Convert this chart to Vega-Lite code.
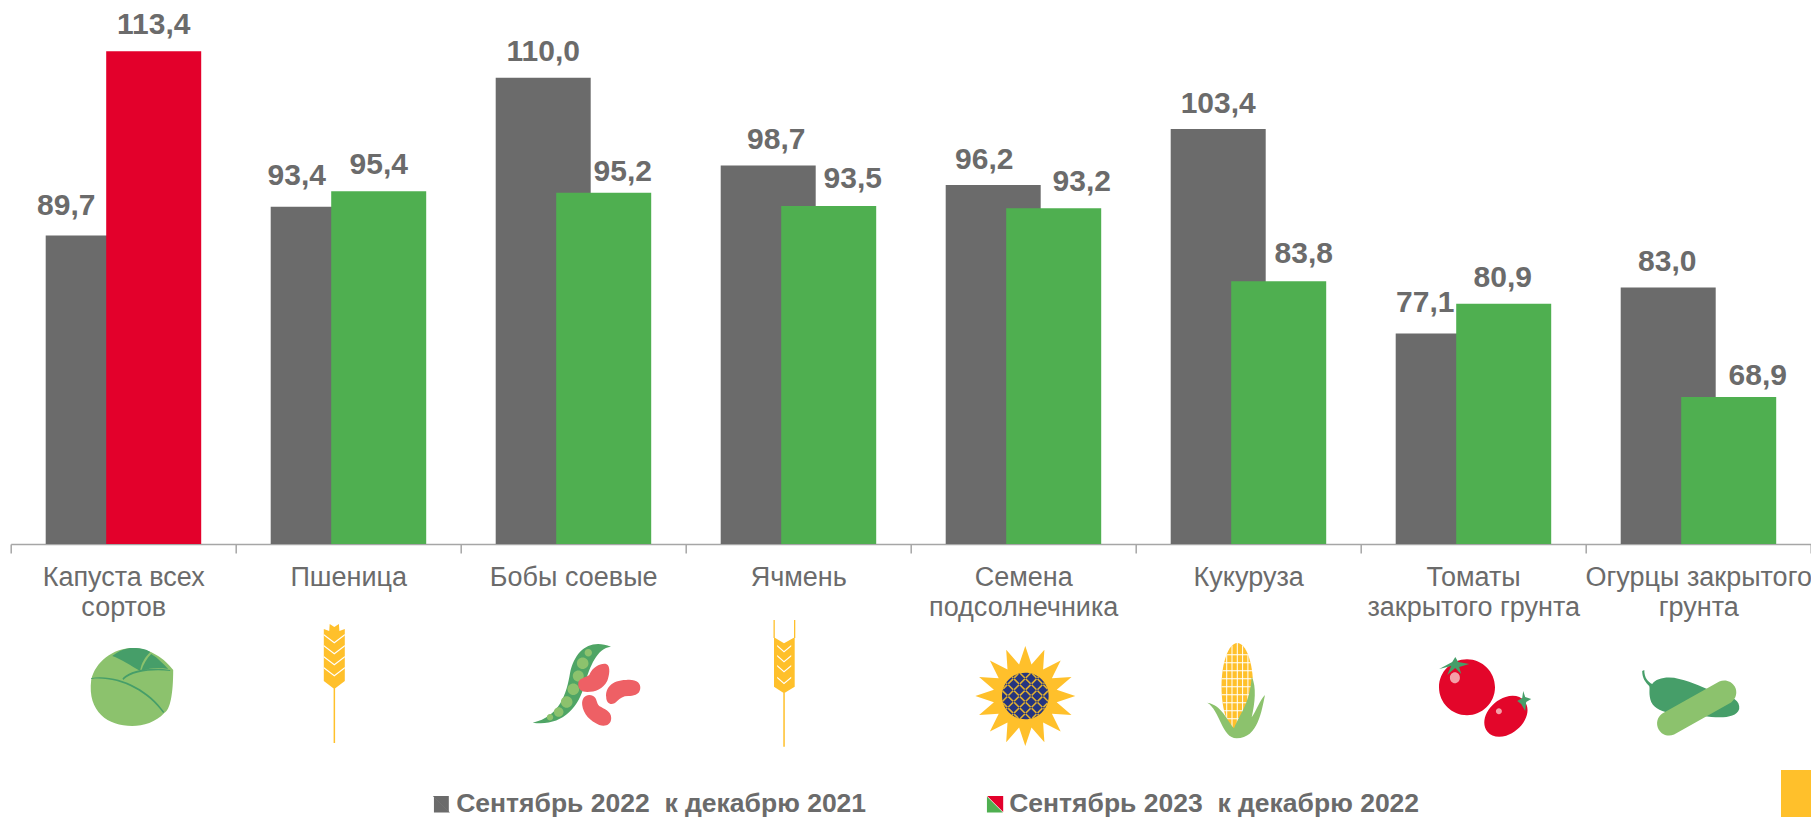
{
"$schema":"https://vega.github.io/schema/vega-lite/v6.json",
"width":1800,"height":544,
"autosize":{"type":"none"},
"padding":{"left":10.7,"right":0.3,"top":0,"bottom":273},
"background":"white",
"config":{"view":{"stroke":null},"locale":{"number":{"decimal":",","thousands":" ","grouping":[3],"currency":["","₽"]}},"text":{"font":"Liberation Sans"}},
"datasets":{
"bars":[
{"crop":"Капуста всех сортов","series":"Сентябрь 2022 \u00a0к декабрю 2021","value":89.7},
{"crop":"Капуста всех сортов","series":"Сентябрь 2023 \u00a0к декабрю 2022","value":113.4},
{"crop":"Пшеница","series":"Сентябрь 2022 \u00a0к декабрю 2021","value":93.4},
{"crop":"Пшеница","series":"Сентябрь 2023 \u00a0к декабрю 2022","value":95.4},
{"crop":"Бобы соевые","series":"Сентябрь 2022 \u00a0к декабрю 2021","value":110.0},
{"crop":"Бобы соевые","series":"Сентябрь 2023 \u00a0к декабрю 2022","value":95.2},
{"crop":"Ячмень","series":"Сентябрь 2022 \u00a0к декабрю 2021","value":98.7},
{"crop":"Ячмень","series":"Сентябрь 2023 \u00a0к декабрю 2022","value":93.5},
{"crop":"Семена подсолнечника","series":"Сентябрь 2022 \u00a0к декабрю 2021","value":96.2},
{"crop":"Семена подсолнечника","series":"Сентябрь 2023 \u00a0к декабрю 2022","value":93.2},
{"crop":"Кукуруза","series":"Сентябрь 2022 \u00a0к декабрю 2021","value":103.4},
{"crop":"Кукуруза","series":"Сентябрь 2023 \u00a0к декабрю 2022","value":83.8},
{"crop":"Томаты закрытого грунта","series":"Сентябрь 2022 \u00a0к декабрю 2021","value":77.1},
{"crop":"Томаты закрытого грунта","series":"Сентябрь 2023 \u00a0к декабрю 2022","value":80.9},
{"crop":"Огурцы закрытого грунта","series":"Сентябрь 2022 \u00a0к декабрю 2021","value":83.0},
{"crop":"Огурцы закрытого грунта","series":"Сентябрь 2023 \u00a0к декабрю 2022","value":68.9}
],
"icons":[
{"crop":"Капуста всех сортов","part":"cabbageHead"},
{"crop":"Капуста всех сортов","part":"cabbageTop"},
{"crop":"Капуста всех сортов","part":"cabbageVeins"},
{"crop":"Пшеница","part":"wheatEar"},
{"crop":"Пшеница","part":"wheatGaps"},
{"crop":"Бобы соевые","part":"pod"},
{"crop":"Бобы соевые","part":"peas"},
{"crop":"Бобы соевые","part":"beans"},
{"crop":"Бобы соевые","part":"legendRed"},
{"crop":"Бобы соевые","part":"legendGray"},
{"crop":"Ячмень","part":"barleyEar"},
{"crop":"Ячмень","part":"barleyGaps"},
{"crop":"Семена подсолнечника","part":"sunPetals"},
{"crop":"Семена подсолнечника","part":"sunSeeds"},
{"crop":"Семена подсолнечника","part":"sunLattice"},
{"crop":"Кукуруза","part":"cornCob"},
{"crop":"Кукуруза","part":"cornGrid"},
{"crop":"Кукуруза","part":"cornLeaves"},
{"crop":"Томаты закрытого грунта","part":"tomatoes"},
{"crop":"Томаты закрытого грунта","part":"tomatoStems"},
{"crop":"Томаты закрытого грунта","part":"tomatoShine"},
{"crop":"Огурцы закрытого грунта","part":"pickle"},
{"crop":"Огурцы закрытого грунта","part":"cucumber"},
{"crop":"Огурцы закрытого грунта","part":"corner"}
]
},
"layer":[
{
"data":{"name":"bars"},
"encoding":{
"x":{"field":"crop","type":"nominal","scale":{"domain":["Капуста всех сортов","Пшеница","Бобы соевые","Ячмень","Семена подсолнечника","Кукуруза","Томаты закрытого грунта","Огурцы закрытого грунта"],"paddingInner":0,"paddingOuter":0},
"axis":{"title":null,"labelAngle":0,"labelFont":"Liberation Sans","labelFontSize":27,"labelColor":"#6B6B6B","labelLimit":0,"labelPadding":11,"labelBaseline":"top","labelLineHeight":30,"labelOverlap":false,"tickBand":"extent","tickSize":9,"tickColor":"#A6A6A6","domainColor":"#A6A6A6","domainWidth":1.5,"tickWidth":1.5,
"labelExpr":"datum.value=='Капуста всех сортов'?['Капуста всех','сортов']:datum.value=='Семена подсолнечника'?['Семена','подсолнечника']:datum.value=='Томаты закрытого грунта'?['Томаты','закрытого грунта']:datum.value=='Огурцы закрытого грунта'?['Огурцы закрытого','грунта']:datum.value"}},
"xOffset":{"field":"series","type":"nominal","scale":{"type":"point","padding":0,"domain":["Сентябрь 2022 \u00a0к декабрю 2021","Сентябрь 2023 \u00a0к декабрю 2022"],"range":[82.5,143]}},
"y":{"field":"value","type":"quantitative","scale":{"domain":[50,120],"nice":false,"zero":false},"axis":null}
},
"layer":[
{"mark":{"type":"bar","width":95},
"encoding":{"y2":{"datum":50},"color":{"condition":{"test":"datum.value>100 && indexof(datum.series,'2023')>=0","value":"#E3002B"},"field":"series","type":"nominal","scale":{"domain":["Сентябрь 2022 \u00a0к декабрю 2021","Сентябрь 2023 \u00a0к декабрю 2022"],"range":["#6B6B6B","#4FAF50"]},
"legend":{"title":null,"orient":"none","legendX":418,"legendY":791,"direction":"horizontal","columns":2,"columnPadding":115,"symbolType":"M-1,-1L-1,1L1,1Z","symbolSize":256,"symbolStrokeWidth":0,"symbolOpacity":1,"labelFont":"Liberation Sans","labelFontSize":26.5,"labelFontWeight":"bold","labelColor":"#6B6B6B","labelLimit":0,"labelOffset":1}}}},
{"transform":[{"filter":"datum.value==89.7"}],"mark":{"type":"text","dx":-27,"dy":-20,"fontSize":30,"fontWeight":"bold","fill":"#6B6B6B","baseline":"alphabetic"},"encoding":{"text":{"field":"value","type":"quantitative","format":".1f"}}},
{"transform":[{"filter":"datum.value==113.4"}],"mark":{"type":"text","dx":0,"dy":-17,"fontSize":30,"fontWeight":"bold","fill":"#6B6B6B","baseline":"alphabetic"},"encoding":{"text":{"field":"value","type":"quantitative","format":".1f"}}},
{"transform":[{"filter":"datum.value==93.4"}],"mark":{"type":"text","dx":-21.5,"dy":-22,"fontSize":30,"fontWeight":"bold","fill":"#6B6B6B","baseline":"alphabetic"},"encoding":{"text":{"field":"value","type":"quantitative","format":".1f"}}},
{"transform":[{"filter":"datum.value==95.4"}],"mark":{"type":"text","dx":0,"dy":-17,"fontSize":30,"fontWeight":"bold","fill":"#6B6B6B","baseline":"alphabetic"},"encoding":{"text":{"field":"value","type":"quantitative","format":".1f"}}},
{"transform":[{"filter":"datum.value==110"}],"mark":{"type":"text","dx":0,"dy":-17,"fontSize":30,"fontWeight":"bold","fill":"#6B6B6B","baseline":"alphabetic"},"encoding":{"text":{"field":"value","type":"quantitative","format":".1f"}}},
{"transform":[{"filter":"datum.value==95.2"}],"mark":{"type":"text","dx":19,"dy":-12,"fontSize":30,"fontWeight":"bold","fill":"#6B6B6B","baseline":"alphabetic"},"encoding":{"text":{"field":"value","type":"quantitative","format":".1f"}}},
{"transform":[{"filter":"datum.value==98.7"}],"mark":{"type":"text","dx":8,"dy":-17,"fontSize":30,"fontWeight":"bold","fill":"#6B6B6B","baseline":"alphabetic"},"encoding":{"text":{"field":"value","type":"quantitative","format":".1f"}}},
{"transform":[{"filter":"datum.value==93.5"}],"mark":{"type":"text","dx":24,"dy":-18,"fontSize":30,"fontWeight":"bold","fill":"#6B6B6B","baseline":"alphabetic"},"encoding":{"text":{"field":"value","type":"quantitative","format":".1f"}}},
{"transform":[{"filter":"datum.value==96.2"}],"mark":{"type":"text","dx":-9,"dy":-16,"fontSize":30,"fontWeight":"bold","fill":"#6B6B6B","baseline":"alphabetic"},"encoding":{"text":{"field":"value","type":"quantitative","format":".1f"}}},
{"transform":[{"filter":"datum.value==93.2"}],"mark":{"type":"text","dx":28,"dy":-17,"fontSize":30,"fontWeight":"bold","fill":"#6B6B6B","baseline":"alphabetic"},"encoding":{"text":{"field":"value","type":"quantitative","format":".1f"}}},
{"transform":[{"filter":"datum.value==103.4"}],"mark":{"type":"text","dx":0,"dy":-16,"fontSize":30,"fontWeight":"bold","fill":"#6B6B6B","baseline":"alphabetic"},"encoding":{"text":{"field":"value","type":"quantitative","format":".1f"}}},
{"transform":[{"filter":"datum.value==83.8"}],"mark":{"type":"text","dx":25,"dy":-18,"fontSize":30,"fontWeight":"bold","fill":"#6B6B6B","baseline":"alphabetic"},"encoding":{"text":{"field":"value","type":"quantitative","format":".1f"}}},
{"transform":[{"filter":"datum.value==77.1"}],"mark":{"type":"text","dx":-18,"dy":-21,"fontSize":30,"fontWeight":"bold","fill":"#6B6B6B","baseline":"alphabetic"},"encoding":{"text":{"field":"value","type":"quantitative","format":".1f"}}},
{"transform":[{"filter":"datum.value==80.9"}],"mark":{"type":"text","dx":-1,"dy":-17,"fontSize":30,"fontWeight":"bold","fill":"#6B6B6B","baseline":"alphabetic"},"encoding":{"text":{"field":"value","type":"quantitative","format":".1f"}}},
{"transform":[{"filter":"datum.value==83"}],"mark":{"type":"text","dx":-1,"dy":-17,"fontSize":30,"fontWeight":"bold","fill":"#6B6B6B","baseline":"alphabetic"},"encoding":{"text":{"field":"value","type":"quantitative","format":".1f"}}},
{"transform":[{"filter":"datum.value==68.9"}],"mark":{"type":"text","dx":29,"dy":-12.6,"fontSize":30,"fontWeight":"bold","fill":"#6B6B6B","baseline":"alphabetic"},"encoding":{"text":{"field":"value","type":"quantitative","format":".1f"}}}
]
},
{
"data":{"name":"icons"},
"mark":{"type":"point","filled":true,"size":4,"opacity":1,"yOffset":140,"strokeWidth":0},
"encoding":{
"x":{"field":"crop","type":"nominal"},
"y":{"datum":50,"type":"quantitative"},
"fill":{"field":"part","type":"nominal","legend":null,"scale":{
"domain":["cabbageHead","cabbageTop","cabbageVeins","wheatEar","wheatGaps","pod","peas","beans","legendRed","legendGray","barleyEar","barleyGaps","sunPetals","sunSeeds","sunLattice","cornCob","cornGrid","cornLeaves","tomatoes","tomatoStems","tomatoShine","pickle","cucumber","corner"],
"range":["#8CC26D","#469E69","#469E69","#FFC02B","#FFFFFF","#4FA565","#8CC26D","#EE6065","#E3002B","#6B6B6B","#FFC02B","#FFFFFF","#FFC02B","#25357F","#E0B030","#FFC02B","#FFFFFF","#8CC26D","#E3062A","#469E69","#F4A0A8","#469E69","#8CC26D","#FFC02B"]}},
"shape":{"field":"part","type":"nominal","legend":null,"scale":{
"domain":["cabbageHead","cabbageTop","cabbageVeins","wheatEar","wheatGaps","pod","peas","beans","legendRed","legendGray","barleyEar","barleyGaps","sunPetals","sunSeeds","sunLattice","cornCob","cornGrid","cornLeaves","tomatoes","tomatoStems","tomatoShine","pickle","cucumber","corner"],
"range":[
"M-32,-4 C-28,-22 -10,-36 9,-36 C27,-36 42,-25 50,-14 C50,10 47,26 41,29 C33,38 20,42 9,42 C-15,42 -36,28 -32,-4Z",
"M-11,-28 C-3,-34 3,-36 9,-36 C20,-36 24,-34 27,-32 C22,-27 18,-21 17,-13 C8,-18 -2,-25 -11,-28Z M28,-30 C35,-26 40,-20 45,-15 C36,-17 26,-16 18,-13 C20,-20 24,-26 28,-30Z",
"M-32,-6 C-5,-10 25,5 41,28 L40,29 C24,7 -5,-8 -32,-5Z M-0.7,-5.7 C8,-15 30,-17 47,-14 L47,-13 C30,-15 9,-13 0,-4Z",
"M-18.5,-60 L-13.9,-57 L-9.3,-60 L-8.8,-53 L-3.4,-55 L-3.4,-3 L-13.9,5 L-24.4,-3 L-24.4,-55 L-19,-53Z M-14.6,4 h1.5 V59 h-1.5Z",
"M-24.4,-50 L-13.9,-42 L-3.4,-50 L-3.4,-48.5 L-13.9,-40.5 L-24.4,-48.5Z M-24.4,-39 L-13.9,-31 L-3.4,-39 L-3.4,-37.5 L-13.9,-29.5 L-24.4,-37.5Z M-24.4,-28 L-13.9,-20 L-3.4,-28 L-3.4,-26.5 L-13.9,-18.5 L-24.4,-26.5Z M-24.4,-17 L-13.9,-9 L-3.4,-17 L-3.4,-15.5 L-13.9,-7.5 L-24.4,-15.5Z",
"M-40.5,38.7 C-13.2,32.7 -6.5,9.3 -3.2,-10.7 C1.8,-34 16.8,-45.7 37.8,-37.3 C23.5,-35.7 16.8,-17.3 11.8,-0.7 C5.1,26 -13.2,42.7 -40.5,38.7Z",
"M11.4,-31.3 a3.7,3.7 0 1,0 7.4,0 a3.7,3.7 0 1,0 -7.4,0Z M3.7,-20.7 a5.8,5.8 0 1,0 11.6,0 a5.8,5.8 0 1,0 -11.6,0Z M-0.4,-8 a5.5,5.5 0 1,0 11,0 a5.5,5.5 0 1,0 -11,0Z M-5.7,5.3 a5.8,5.8 0 1,0 11.6,0 a5.8,5.8 0 1,0 -11.6,0Z M-12.3,18 a5.8,5.8 0 1,0 11.6,0 a5.8,5.8 0 1,0 -11.6,0Z M-19.3,28 a4.8,4.8 0 1,0 9.6,0 a4.8,4.8 0 1,0 -9.6,0Z M-26.4,33.3 a3.2,3.2 0 1,0 6.4,0 a3.2,3.2 0 1,0 -6.4,0Z",
"M5,0 C5,-6 12,-6 16,-9 C20,-18 28,-21 33,-20 C38,-18 36,-8 34,-3 C30,5 22,8 14,8 C8,8 5,5 5,0Z M33,13 C32,5 38,-4 53,-4 C63,-5 68,-1 67,5 C66,11 60,12 55,12 C50,12 47,14 44,17 C40,22 33,21 33,13Z M9,21 C8,12 15,9 20,12 C24,14 23,19 26,22 C31,25 38,27 38,34 C38,41 32,43 26,41 C17,37 10,30 9,21Z",
"M414,112 H430 V128Z",
"M-140.4,112 H-124.4 V128Z",
"M-24.2,-46.7 L-14.2,-40.7 L-3.5,-46.7 L-3.5,2.7 L-14.2,9.3 L-24.2,2.7Z M-24.7,-64 h1.3 v18 h-1.3Z M-4.2,-64 h1.3 v18 h-1.3Z M-14.9,9 h1.5 V62.7 h-1.5Z",
"M-21,-39 L-14.2,-33 L-7,-39 L-7,-37.5 L-14.2,-31.5 L-21,-37.5Z M-21,-29 L-14.2,-23 L-7,-29 L-7,-27.5 L-14.2,-21.5 L-21,-27.5Z M-21,-19 L-14.2,-13 L-7,-19 L-7,-17.5 L-14.2,-11.5 L-21,-17.5Z M-21,-7.3 L-14.2,-1.3 L-7,-7.3 L-7,-5.8 L-14.2,0.2 L-21,-5.8Z",
"M2.1,-38 L8.3,-19.4 L21.2,-34.2 L19.9,-14.6 L37.5,-23.4 L28.7,-5.8 L48.3,-7.1 L33.5,5.8 L52.1,12 L33.5,18.2 L48.3,31.1 L28.7,29.8 L37.5,47.4 L19.9,38.6 L21.2,58.2 L8.3,43.4 L2.1,62 L-4.1,43.4 L-17,58.2 L-15.7,38.6 L-33.3,47.4 L-24.5,29.8 L-44.1,31.1 L-29.3,18.2 L-47.9,12 L-29.3,5.8 L-44.1,-7.1 L-24.5,-5.8 L-33.3,-23.4 L-15.7,-14.6 L-17,-34.2 L-4.1,-19.4Z",
"M-21.2,12 a23.3,23.3 0 1,0 46.6,0 a23.3,23.3 0 1,0 -46.6,0Z",
"M-11.74,-6.54 l32.4,32.4 l1.13,-1.13 l-32.4,-32.4Z M-17.58,-0.7 l32.4,32.4 l1.13,-1.13 l-32.4,-32.4Z M-3.63,-10.13 l27.9,27.9 l1.13,-1.13 l-27.9,-27.9Z M-21.16,7.4 l27.9,27.9 l1.13,-1.13 l-27.9,-27.9Z M8.6,-9.63 l15.1,15.1 l1.13,-1.13 l-15.1,-15.1Z M-20.66,19.64 l15.1,15.1 l1.13,-1.13 l-15.1,-15.1Z M15.94,-6.54 l-32.4,32.4 l-1.13,-1.13 l32.4,-32.4Z M21.78,-0.7 l-32.4,32.4 l-1.13,-1.13 l32.4,-32.4Z M7.83,-10.13 l-27.9,27.9 l-1.13,-1.13 l27.9,-27.9Z M25.36,7.4 l-27.9,27.9 l-1.13,-1.13 l27.9,-27.9Z M-4.4,-9.63 l-15.1,15.1 l-1.13,-1.13 l15.1,-15.1Z M24.86,19.64 l-15.1,15.1 l-1.13,-1.13 l15.1,-15.1Z",
"M-26.7,2.7 a15.8,43.7 0 1,1 31.6,0 a15.8,43.7 0 1,1 -31.6,0Z",
"M-21.7,-29.8 h21.6 v1 h-21.6Z M-24.1,-21.8 h26.4 v1 h-26.4Z M-25.6,-13.8 h29.4 v1 h-29.4Z M-26.4,-5.8 h31 v1 h-31Z M-26.7,2.2 h31.6 v1 h-31.6Z M-26.4,10.2 h31 v1 h-31Z M-25.6,18.2 h29.4 v1 h-29.4Z M-24.1,26.2 h26.4 v1 h-26.4Z M-21.7,34.2 h21.6 v1 h-21.6Z M-16.7,-38.5 h1 v82.4 h-1Z M-6.1,-38.5 h1 v82.4 h-1Z M-22,-29.7 h1 v64.8 h-1Z M-0.8,-29.7 h1 v64.8 h-1Z M-11.4,-41 h1 v87.4 h-1Z",
"M-40.9,18.7 C-26.5,21 -21.5,36 -14.2,44.3 C-8.2,29.3 1.8,19.3 3.5,-7.3 C8.5,2.7 6.8,19.3 3.5,33.3 C8.5,26 11.8,16 16.8,11 C13.5,26 10.1,54.3 -11.5,54.3 C-26.5,54.3 -28.2,26 -40.9,18.7Z",
"M-34.2,3.3 a28,28 0 1,1 56,0 a28,28 0 1,1 -56,0Z M14.3,47.7 A24,17,-40,1,1,51.1,16.9 A24,17,-40,1,1,14.3,47.7Z",
"M-17.9,-27 L-15,-22 L-4,-20 L-14,-17 L-12,-10 L-18,-16 L-26,-9 L-22,-18 L-34,-15 L-21,-22Z M50,7 L52,13 L58,15 L53,18 L52,27 L48,20 L44,17 L49,14Z",
"M-23.3,-6.3 a5,5.5 0 1,0 10,0 a5,5.5 0 1,0 -10,0Z M22.7,27.3 a3,3 0 1,0 6,0 a3,3 0 1,0 -6,0Z",
"M-53.9,-14 C-54,-6 -50,-2 -46,0 C-42,-6 -30,-8 -19,-5 C-5,-2 5,4 20,9 C35,12 42,17 41,25 C38,35 20,34 5,32 C-15,30 -40,32 -47,18 C-50,10 -48,5 -49,2 C-53,-2 -56,-6 -56,-13Z",
"M-35.9,29.6 L21.1,-2.4 A12,12,0,0,1,32.9,18.4 L-24.1,50.4 A12,12,0,0,1,-35.9,29.6Z",
"M82.8,86 H115 V135 H82.8Z"
]}}
}
}
]
}
